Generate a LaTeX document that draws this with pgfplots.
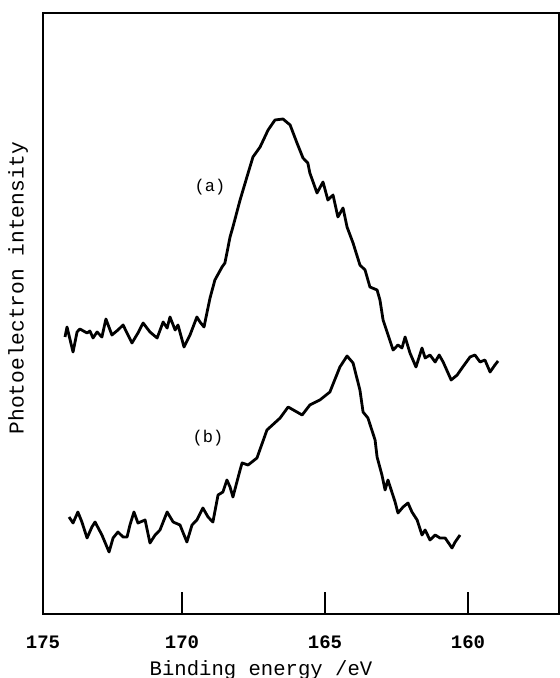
\documentclass[border=0pt]{standalone}
\usepackage{pgfplots}
\pgfplotsset{compat=1.18}
\usepackage{fontspec}
\setmainfont{Liberation Mono}
\setmonofont{Liberation Mono}

\begin{document}
\begin{tikzpicture}
\useasboundingbox (-21.5pt,-32pt) rectangle (258.5pt,307pt);
\begin{axis}[
  name = main,
  scale only axis,
  width  = 258pt,
  height = 300.5pt,
  at = {(0,0)}, anchor = south west,
  x dir = reverse,
  xmin = 156.82, xmax = 174.86,
  ymin = 0, ymax = 601,
  axis line style = {black, line width=1pt},
  xtick = {170,165,160},
  xticklabels = {170,165,160},
  xtick pos = bottom,
  tick align = inside,
  major tick length = 11pt,
  tick style = {black, line width=0.9pt},
  ytick = \empty,
  xticklabel style = {font=\fontsize{9.5}{11}\selectfont\bfseries, anchor=base, yshift=-17pt},
  xlabel = {Binding energy /eV},
  ylabel = {Photoelectron intensity},
  xlabel style = {font=\fontsize{10.3}{12}\selectfont, at={(axis description cs:0.4225,-0.103)}, anchor=base},
  ylabel style = {font=\fontsize{10.6}{12}\selectfont, at={(axis description cs:-0.0484,0.5424)}, anchor=center},
  clip = false,
]

% spectrum (a)
\addplot[black, line width=1.4pt, line join=round] coordinates {
  (174.09,277)(174.02,287)(173.81,262)(173.67,282)(173.57,285)(173.32,281)
  (173.22,283)(173.11,276)(172.97,282)(172.80,277)(172.66,295)(172.45,279)
  (172.24,284)(172.06,289)(171.75,271)(171.54,281)(171.36,291)(171.12,282)
  (170.87,276)(170.66,292)(170.52,286)(170.42,297)(170.24,284)(170.14,289)
  (169.93,267)(169.72,279)(169.48,297)(169.37,292)(169.23,287)(169.13,301)
  (169.02,316)(168.85,334)(168.60,347)(168.50,351)(168.32,377)(168.22,387)
  (167.97,414)(167.73,437)(167.52,457)(167.27,467)(166.99,484)(166.75,494)
  (166.47,495)(166.22,489)(165.98,471)(165.77,456)(165.60,451)(165.53,441)
  (165.28,421)(165.07,432)(164.90,414)(164.72,419)(164.55,397)(164.37,406)
  (164.23,387)(164.02,371)(163.78,349)(163.60,344)(163.43,327)(163.18,324)
  (163.08,314)(162.97,294)(162.83,282)(162.62,264)(162.45,269)(162.31,266)
  (162.20,277)(162.03,261)(161.82,247)(161.61,266)(161.50,256)(161.33,259)
  (161.15,252)(161.01,259)(160.87,252)(160.59,234)(160.38,239)(160.21,246)
  (159.93,257)(159.76,259)(159.58,252)(159.41,254)(159.23,242)(159.06,249)
  (158.95,253)
};

% spectrum (b)
\addplot[black, line width=1.4pt, line join=round] coordinates {
  (173.95,97)(173.81,91)(173.64,102)(173.50,92)(173.32,76)(173.15,87)
  (173.04,92)(172.80,79)(172.55,62)(172.41,76)(172.24,82)(172.06,77)
  (171.92,77)(171.82,89)(171.68,102)(171.54,91)(171.29,94)(171.12,71)
  (170.94,79)(170.77,84)(170.52,102)(170.31,92)(170.07,89)(169.83,72)
  (169.65,89)(169.48,94)(169.27,106)(169.09,97)(168.92,92)(168.74,119)
  (168.57,122)(168.43,134)(168.32,127)(168.22,117)(167.97,144)(167.90,151)
  (167.69,149)(167.38,156)(167.03,184)(166.57,196)(166.29,207)(165.80,199)
  (165.53,209)(165.18,214)(164.83,222)(164.48,247)(164.23,258)(164.02,251)
  (163.78,224)(163.67,202)(163.50,196)(163.25,174)(163.18,157)(163.01,139)
  (162.90,124)(162.80,134)(162.55,112)(162.45,101)(162.27,107)(162.10,111)
  (161.96,102)(161.78,94)(161.61,79)(161.50,84)(161.33,74)(161.15,79)
  (160.98,76)(160.80,76)(160.56,66)(160.45,72)(160.28,79)
};

\node[font=\fontsize{8.5}{10}\selectfont] at (axis cs:169.02,427) {(a)};
\node[font=\fontsize{8.5}{10}\selectfont] at (axis cs:169.09,176) {(b)};
\node[font=\fontsize{9.5}{11}\selectfont\bfseries, anchor=base, yshift=-17pt] at (rel axis cs:0,0) {175};
\end{axis}
\end{tikzpicture}
\end{document}
